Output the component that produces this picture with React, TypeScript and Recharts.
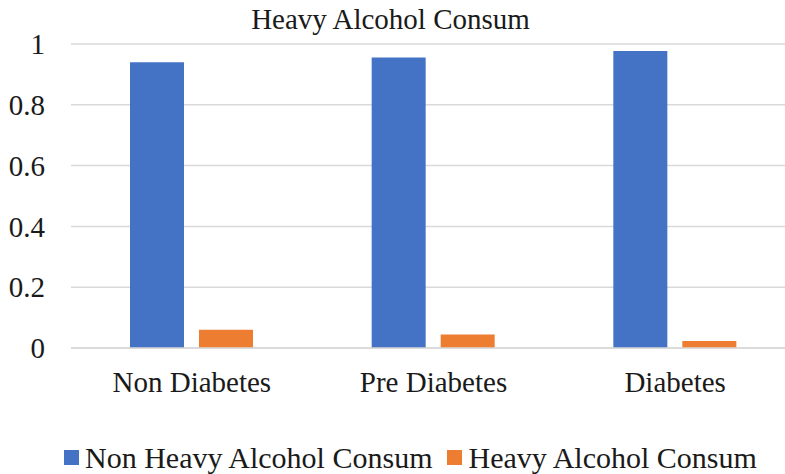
import React from 'react';
import { BarChart, Bar, XAxis, YAxis, CartesianGrid } from 'recharts';

// Share of respondents by diabetes status
const categories = ['Non Diabetes', 'Pre Diabetes', 'Diabetes'];
const nonHeavyShare = [0.94, 0.956, 0.977];
const heavyShare = [0.06, 0.044, 0.023];
const yTicks = [0, 0.2, 0.4, 0.6, 0.8, 1];
const seriesNames = ['Non Heavy Alcohol Consum', 'Heavy Alcohol Consum'];
const chartTitle = 'Heavy Alcohol Consum';

const COLORS = ['#4472C4', '#ED7D31'];
const FONT = "'Liberation Serif', 'Times New Roman', serif";
const TEXT = '#1a1a1a';
const GRID = '#d9d9d9';

const data = categories.map((name, i) => ({
  name,
  nonHeavy: nonHeavyShare[i],
  heavy: heavyShare[i],
}));

const App: React.FC = () => {
  return (
    <div
      style={{
        position: 'fixed',
        left: 0,
        top: 0,
        width: 785,
        height: 474,
        overflow: 'hidden',
        background: '#fff',
        fontFamily: FONT,
        color: TEXT,
      }}
    >
      <div
        style={{
          position: 'absolute',
          left: 0,
          top: 5,
          width: 781,
          textAlign: 'center',
          fontSize: 29,
          lineHeight: '28px',
          whiteSpace: 'nowrap',
        }}
      >
        {chartTitle}
      </div>

      <BarChart
        width={800}
        height={474}
        data={data}
        margin={{ top: 44, right: 4, bottom: 86, left: 0 }}
        barSize={54}
        barGap={15}
      >
        <CartesianGrid vertical={false} stroke={GRID} strokeWidth={1.5} />
        <XAxis
          dataKey="name"
          height={40}
          axisLine={{ stroke: GRID, strokeWidth: 1.5 }}
          tickLine={false}
          tickSize={6}
          tickMargin={17}
          tick={{ fontSize: 29, fill: TEXT, fontFamily: FONT }}
          interval={0}
        />
        <YAxis
          width={71}
          domain={[0, 1]}
          ticks={yTicks}
          axisLine={false}
          tickLine={false}
          tickSize={6}
          tickMargin={20}
          tick={{ fontSize: 29, fill: TEXT, fontFamily: FONT }}
        />
        <Bar dataKey="nonHeavy" name={seriesNames[0]} fill={COLORS[0]} isAnimationActive={false} />
        <Bar dataKey="heavy" name={seriesNames[1]} fill={COLORS[1]} isAnimationActive={false} />
      </BarChart>

      <div
        style={{
          position: 'absolute',
          left: 64,
          top: 441,
          display: 'flex',
          alignItems: 'center',
          fontSize: 30,
          lineHeight: '33px',
          whiteSpace: 'nowrap',
        }}
      >
        {seriesNames.map((label, i) => (
          <div
            key={label}
            style={{ display: 'flex', alignItems: 'center', marginRight: i === 0 ? 15 : 0 }}
          >
            <span
              style={{
                display: 'inline-block',
                width: 15,
                height: 15,
                background: COLORS[i],
                marginRight: 6,
              }}
            />
            <span>{label}</span>
          </div>
        ))}
      </div>
    </div>
  );
};

export default App;
